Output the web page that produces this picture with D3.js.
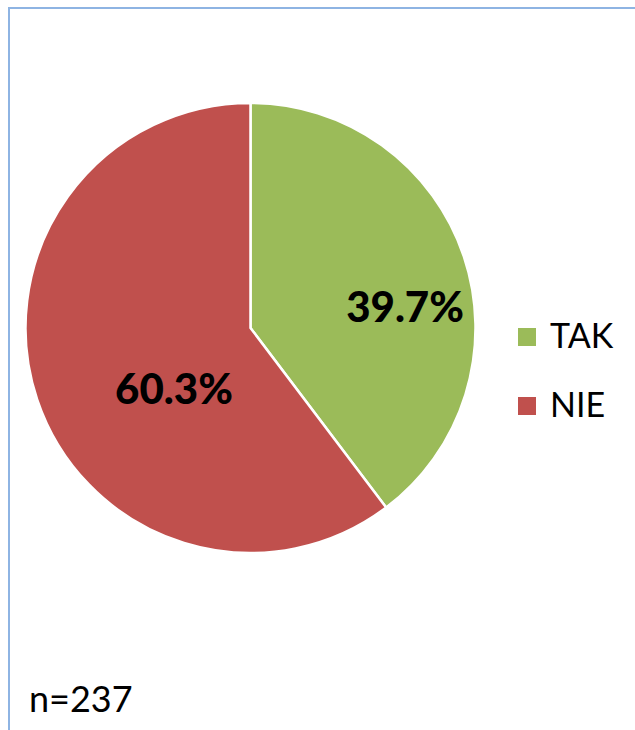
<!DOCTYPE html>
<html>
<head>
<meta charset="utf-8">
<script src="https://cdn.jsdelivr.net/npm/d3@7"></script>
<style>
  body { margin: 0; background: #fff; }
  svg { display: block; font-family: Lato, "Open Sans", sans-serif; }
</style>
</head>
<body>
<div id="chart"></div>
<script>
// chart values
const categories = ['TAK', 'NIE'];
const shares = [39.7, 60.3];
const colors = ['#9bbb59', '#c0504d'];
const sampleNote = 'n=237';

let width = 635,
  height = 730;

// pie geometry
let cx = 250.5,
  cy = 328,
  radius = 225;

let svg = d3
  .select('#chart')
  .append('svg')
  .attr('width', width)
  .attr('height', height);

// the light blue frame (only top and left edges are visible)
svg
  .append('path')
  .attr('d', 'M9,' + height + ' V8 H' + width)
  .attr('fill', 'none')
  .attr('stroke', '#8eb4e3')
  .attr('stroke-width', 2);

let pie = d3.pie().sort(null).value(function (d) { return d; });
let arcs = pie(shares);

let arc = d3.arc().innerRadius(0).outerRadius(radius);

let g = svg.append('g').attr('transform', 'translate(' + cx + ',' + cy + ')');

g.selectAll('path.slice')
  .data(arcs)
  .enter()
  .append('path')
  .attr('class', 'slice')
  .attr('d', arc)
  .attr('fill', function (d, i) { return colors[i]; })
  .attr('stroke', '#fff')
  .attr('stroke-width', 2.5)
  .attr('stroke-linejoin', 'round');

// labels - excel "best fit" spots, in units of the radius from the centre
let labelSpot = [[0.687, -0.093], [-0.34, 0.27]];

g.selectAll('text.pct')
  .data(arcs)
  .enter()
  .append('text')
  .attr('class', 'pct')
  .attr('x', function (d, i) { return labelSpot[i][0] * radius; })
  .attr('y', function (d, i) { return labelSpot[i][1] * radius; })
  .attr('text-anchor', 'middle')
  .attr('dy', '0.36em')
  .attr('font-weight', 900)
  .attr('font-size', 42)
  .attr('fill', '#000')
  .text(function (d) { return d.data.toFixed(1) + '%'; });

// legend
let legend = svg.append('g').attr('transform', 'translate(518, 328)');
let legendY = d3.scalePoint().domain(categories).range([0, 69]);

categories.forEach(function (c, i) {
  legend
    .append('rect')
    .attr('x', 0)
    .attr('y', legendY(c))
    .attr('width', 18)
    .attr('height', 18)
    .attr('fill', colors[i]);
  legend
    .append('text')
    .attr('x', 32)
    .attr('y', legendY(c) + 20)
    .attr('font-size', 34)
    .attr('fill', '#000')
    .text(c);
});

svg
  .append('text')
  .attr('x', 29)
  .attr('y', 712)
  .attr('font-size', 36)
  .attr('fill', '#000')
  .text(sampleNote);
</script>
</body>
</html>
